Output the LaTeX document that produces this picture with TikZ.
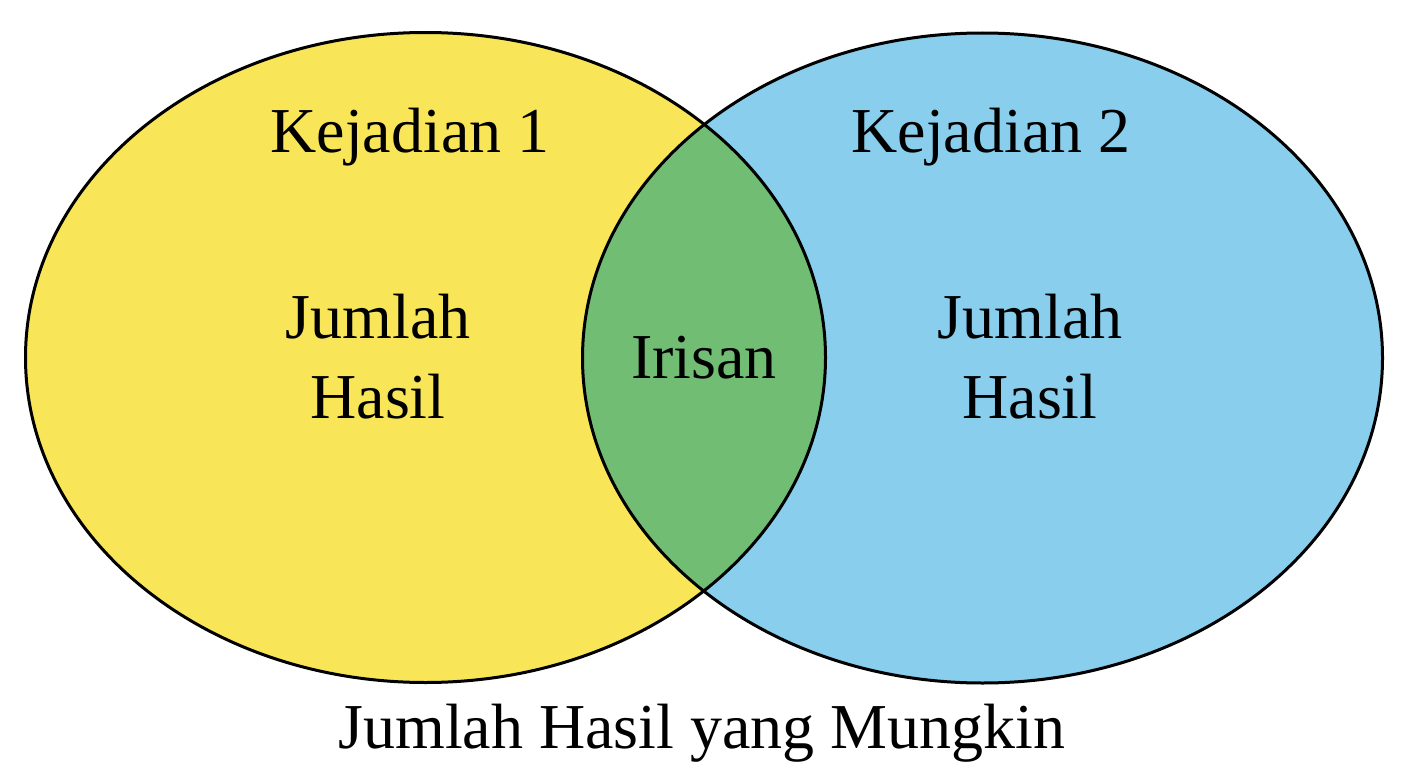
\documentclass[tikz,border=0pt]{standalone}
\usepackage{fontspec}
\setmainfont{Liberation Serif}
\usepackage{tikz}
\definecolor{kuning}{RGB}{249,230,88}
\definecolor{biru}{RGB}{137,206,236}
\definecolor{hijau}{RGB}{114,189,116}
\begin{document}
\begin{tikzpicture}[x=1pt,y=-1pt,
                    label/.style={anchor=base,font=\fontsize{64}{80}\selectfont,align=center},
                    rim/.style={draw=black,line width=3pt}]

 \useasboundingbox[fill=white] (0,0) rectangle (1408,768);

 % the two events
  \fill[kuning] (425.5,357.5) ellipse (400 and 325);
  \fill[biru]   (982.5,358) ellipse (400 and 325);
  \begin{scope}
   \clip (425.5,357.5) ellipse (400 and 325);
   \fill[hijau] (982.5,358) ellipse (400 and 325);
  \end{scope}
  \path[rim] (425.5,357.5) ellipse (400 and 325);
  \path[rim] (982.5,358) ellipse (400 and 325);

  \node[label] (K1) at (410,152)  {Kejadian 1};
  \node[label] (K2) at (991,152)  {Kejadian 2};
  \node[label] (J1) at (378,338)  {Jumlah};
  \node[label] (H1) at (378,418)  {Hasil};
  \node[label] (J2) at (1030,338) {Jumlah};
  \node[label] (H2) at (1030,418) {Hasil};
  \node[label] (I)  at (704,378)  {Irisan};
  \node[label] (S)  at (702,748)  {Jumlah Hasil yang Mungkin};

\end{tikzpicture}
\end{document}
